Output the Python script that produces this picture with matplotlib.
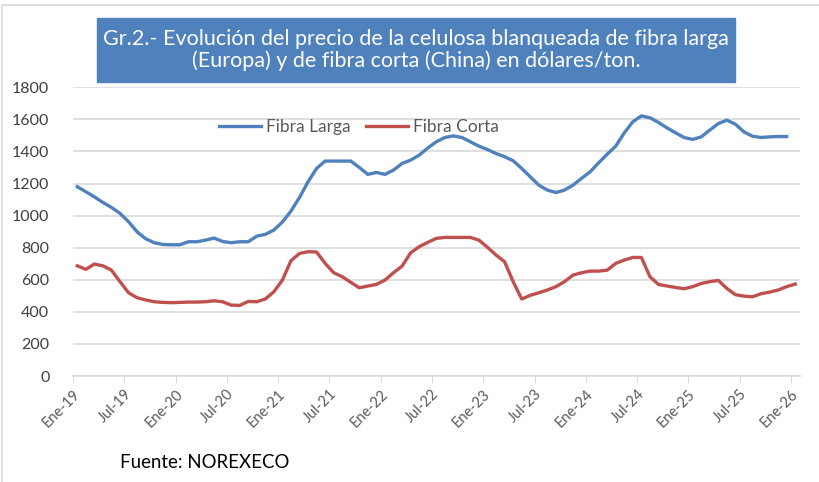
import matplotlib.pyplot as plt
import numpy as np
from matplotlib.patches import Rectangle

# monthly prices, Ene-19 .. Dic-25 (larga) / Ene-26 (corta), USD/ton
fibra_larga = [
    1180, 1149, 1117, 1082, 1051, 1014, 962, 899, 856, 831, 820, 818,
    818, 837, 837, 847, 860, 839, 831, 837, 837, 872, 883, 910,
    960, 1028, 1113, 1211, 1294, 1340, 1340, 1340, 1340, 1300, 1257, 1269,
    1257, 1284, 1325, 1346, 1377, 1421, 1460, 1487, 1497, 1487, 1460, 1433,
    1412, 1387, 1367, 1342, 1294, 1242, 1190, 1159, 1144, 1159, 1190, 1232,
    1273, 1329, 1383, 1433, 1516, 1585, 1622, 1610, 1581, 1547, 1516, 1487,
    1475, 1491, 1533, 1574, 1595, 1570, 1522, 1495, 1487, 1491, 1493, 1493,
]
fibra_corta = [
    687, 665, 698, 687, 660, 588, 519, 488, 474, 463, 459, 457,
    459, 461, 461, 463, 469, 463, 442, 440, 465, 463, 480, 525,
    598, 719, 764, 775, 773, 702, 644, 619, 584, 550, 561, 571,
    598, 644, 685, 768, 806, 833, 858, 864, 864, 864, 864, 847,
    802, 754, 712, 588, 480, 503, 519, 536, 557, 588, 629, 644,
    654, 654, 660, 702, 723, 739, 739, 619, 571, 561, 552, 544,
    557, 577, 588, 596, 546, 507, 498, 494, 513, 523, 536, 557,
    573,
]
tick_labels = [f"{m}-{y}" for y in range(19, 27) for m in ("Ene", "Jul")][:-1]

BLUE = "#4f81bd"
RED = "#c0504d"

plt.rcParams["font.family"] = ["Lato", "DejaVu Sans"]

fig = plt.figure(figsize=(8.19, 4.82), dpi=100)
ax = fig.add_axes([73 / 819, 1 - 376 / 482, (799.5 - 73) / 819, (376 - 87.3) / 482])

x_larga = np.arange(len(fibra_larga)) + 0.5
x_corta = np.arange(len(fibra_corta)) + 0.5
ax.plot(x_larga, fibra_larga, color=BLUE, lw=2.4, label="Fibra Larga")
ax.plot(x_corta, fibra_corta, color=RED, lw=2.4, label="Fibra Corta")

ax.set_xlim(0, 85)
ax.set_ylim(0, 1800)
ax.set_yticks(np.arange(0, 1801, 200))
ax.set_xticks(np.arange(0, 85, 6))
ax.set_xticklabels(tick_labels, rotation=45, ha="right", va="top",
                   rotation_mode="anchor", color="#595959", fontsize=10.5)
ax.tick_params(axis="y", length=0, labelsize=11.5, labelcolor="#404040", pad=17)
ax.tick_params(axis="x", length=5, color="#d9d9d9", pad=3)
ax.grid(axis="y", color="#d9d9d9", lw=1.2)
ax.set_axisbelow(True)
for s in ("top", "right", "left"):
    ax.spines[s].set_visible(False)
ax.spines["bottom"].set_color("#d9d9d9")
ax.spines["bottom"].set_linewidth(1.2)

ax.legend(loc="center", bbox_to_anchor=(359 / 819, 1 - 127 / 482),
          bbox_transform=fig.transFigure, ncol=2, frameon=False,
          handlelength=2.4, columnspacing=0.9, handletextpad=0.3,
          fontsize=12.5, labelcolor="#595959")

# title box
fig.patches.append(Rectangle((97 / 819, 1 - 82 / 482), (735 - 97) / 819, 64 / 482,
                             transform=fig.transFigure, color=BLUE, zorder=0))
fig.text(416 / 819, 1 - 50 / 482,
         "Gr.2.- Evolución del precio de la celulosa blanqueada de fibra larga\n"
         "(Europa) y de fibra corta (China) en dólares/ton.",
         ha="center", va="center", color="white", fontsize=15.5, linespacing=1.1)

fig.text(120 / 819, 1 - 462 / 482, "Fuente: NOREXECO", ha="left", va="center",
         fontsize=13.4, color="black")

# chart frame
fig.patches.append(Rectangle((0.002, -0.01), 1.2, 1.0, transform=fig.transFigure,
                             fill=False, ec="#d9d9d9", lw=1.2))

fig.savefig("out.png", dpi=100)
